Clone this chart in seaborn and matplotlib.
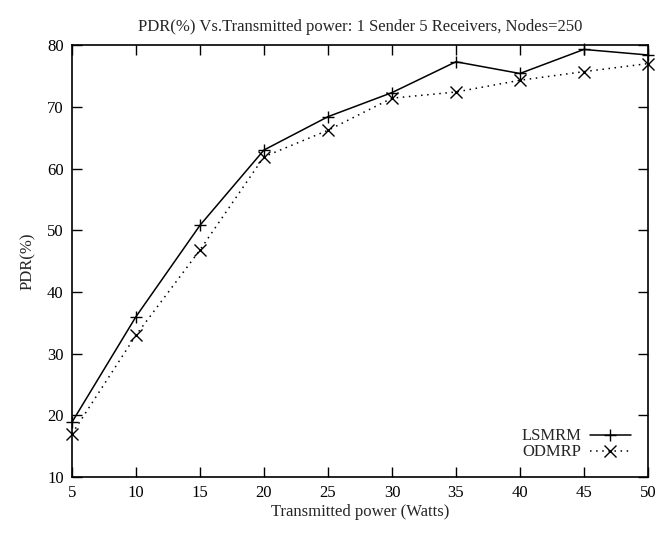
import pandas as pd
import matplotlib
matplotlib.use("Agg")
import matplotlib.pyplot as plt
import seaborn as sns

# values
power = [5, 10, 15, 20, 25, 30, 35, 40, 45, 50]
lsmrm = [18.9, 36.0, 50.8, 63.0, 68.4, 72.3, 77.3, 75.4, 79.3, 78.4]
odmrp = [17.0, 33.0, 46.8, 61.9, 66.2, 71.4, 72.4, 74.3, 75.7, 77.0]

df = pd.DataFrame({
    'power': power * 2,
    'pdr': lsmrm + odmrp,
    'protocol': ['LSMRM'] * len(power) + ['ODMRP'] * len(power),
})

sns.set_theme(style="ticks")
plt.rcParams['font.family'] = ['Liberation Serif', 'DejaVu Serif']

fig = plt.figure(figsize=(6.7, 5.37), dpi=100)
ax = fig.add_axes([0.1075, 0.1117, 0.8595, 0.8043])

sns.lineplot(data=df, x='power', y='pdr', hue='protocol', style='protocol',
             palette={'LSMRM': 'black', 'ODMRP': 'black'},
             dashes={'LSMRM': '', 'ODMRP': (1, 3)},
             markers={'LSMRM': '+', 'ODMRP': 'x'},
             markersize=8, markeredgewidth=1.0, markeredgecolor='black',
             linewidth=1.1, clip_on=False, ax=ax)

ax.set_xlim(5, 50)
ax.set_ylim(10, 80)
ax.set_xticks(power)
ax.set_yticks(range(10, 81, 10))
ax.tick_params(direction='in', length=7, width=1, top=True, right=True,
               labelsize=12, colors='black', pad=6)
for s in ax.spines.values():
    s.set_linewidth(1.2)
    s.set_color('black')

ax.set_xlabel('Transmitted power (Watts)', fontsize=12, labelpad=2)
ax.set_ylabel('PDR(%)', fontsize=12, labelpad=8)
ax.set_title('PDR(%) Vs.Transmitted power: 1 Sender 5 Receivers, Nodes=250',
             fontsize=12, pad=10)

leg = ax.legend(loc='lower right', frameon=False, markerfirst=False,
                fontsize=12, handlelength=2.5, handletextpad=0.5,
                labelspacing=0.0, borderaxespad=0.6)
for h in leg.legend_handles:
    h.set_markeredgecolor('black')

fig.savefig('out.png', dpi=100)
